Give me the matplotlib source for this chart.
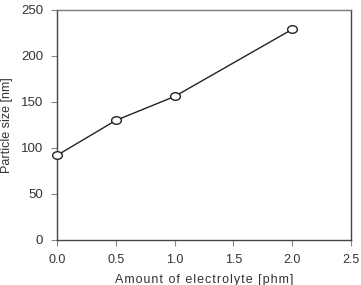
import matplotlib
matplotlib.use("Agg")
import matplotlib.pyplot as plt
from matplotlib.path import Path
from matplotlib.transforms import Affine2D

electrolyte = [0.0, 0.5, 1.0, 2.0]
particle_size = [92, 130, 156, 229]
xticks = [0.0, 0.5, 1.0, 1.5, 2.0, 2.5]
yticks = [0, 50, 100, 150, 200, 250]

plt.rcParams['font.family'] = ['Liberation Sans', 'DejaVu Sans']
fig = plt.figure(figsize=(3.61, 2.85), dpi=100)
ax = fig.add_axes([57/361, 1-240/285, (351-57)/361, (240-10)/285])

ellipse = Path.unit_circle().transformed(Affine2D().scale(1.0, 0.78))
ax.plot(electrolyte, particle_size, color='#222222', lw=1.0, marker=ellipse,
        ms=7, mfc='white', mec='#222222', mew=1.0, clip_on=False, zorder=3)
ax.set_xlim(0, 2.5)
ax.set_ylim(0, 250)
ax.set_xticks(xticks)
ax.set_xticklabels([f"{v:.1f}" for v in xticks])
ax.set_yticks(yticks)
for s in ax.spines.values():
    s.set_color('#444444')
    s.set_linewidth(1.0)
ax.spines['top'].set_color('#777777')
ax.tick_params(direction='out', length=4, width=0.8, color='#888888',
               labelsize=9.5, labelcolor='#333333')
ax.tick_params(axis='x', pad=6, labelsize=9)
ax.tick_params(axis='y', pad=6)
xl = "\u200a".join("Amount of electrolyte [phm]")
ax.set_xlabel(xl, fontsize=9, color='#333333', labelpad=6)
fig.text(7/361, 1-125/285, "Particle size [nm]", rotation=90, ha='center',
         va='center', fontsize=9, color='#333333')
fig.savefig("out.png", dpi=100)
